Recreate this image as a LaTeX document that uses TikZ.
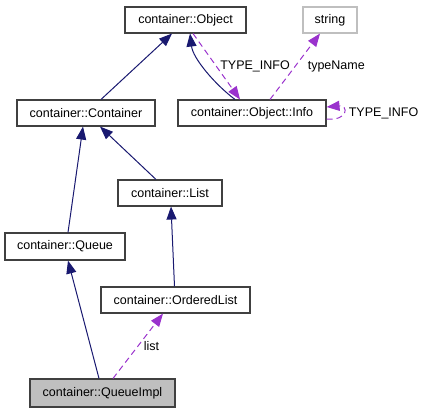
\documentclass[tikz,border=0pt]{standalone}
\usepackage{fontspec}
\setmainfont{Liberation Sans}
\usepackage{tikz}
\usetikzlibrary{shapes,arrows.meta,backgrounds}
\definecolor{edgeblue}{HTML}{191970}
\definecolor{edgepurple}{HTML}{9A32CD}
\definecolor{boxgray}{HTML}{BFBFBF}
\tikzset{
  classbox/.style={ draw=black!75, line width=1.1pt, fill=white, inner sep=0pt, minimum height=26pt, font=\fontsize{12.5}{14}\selectfont }
}
\tikzset{
  classfocus/.style={ classbox, fill=boxgray, minimum height=28pt }
}
\tikzset{
  extbox/.style={ classbox, draw=boxgray }
}
\tikzset{
  inherit/.style={ edgeblue, line width=1pt, -{Triangle[length=13pt, width=10pt]} }
}
\tikzset{
  usage/.style={ edgepurple, line width=1pt, dash pattern=on 6pt off 4pt, -{Triangle[length=13pt, width=10pt]} }
}
\tikzset{
  edgelabel/.style={ black, inner sep=3.3pt, font=\fontsize{12.5}{14}\selectfont }
}
\begin{document}
\begin{tikzpicture}[y=-1pt, x=1pt]

      \useasboundingbox (0, 0) rectangle (425, 413);

      \node[classbox, minimum width=121pt] (obj) at (185.5, 20) {container::Object};
      \node[extbox, minimum width=54pt] (str) at (330, 20) {string};
      \node[classbox, minimum width=138pt] (cont) at (86, 113) {container::Container};
      \node[classbox, minimum width=148pt] (info) at (252, 113) {container::Object::Info};
      \node[classbox, minimum width=104pt] (list) at (170, 193) {container::List};
      \node[classbox, minimum width=120pt, minimum height=27pt] (queue) at (65, 246.5) {container::Queue};
      \node[classbox, minimum width=149pt] (olist) at (175.5, 300) {container::OrderedList};
      \node[classfocus, minimum width=145pt] (qimpl) at (102.5, 393) {container::QueueImpl};

      % base classes
      \draw[inherit] ([xshift=15pt]cont.north) -- ([xshift=-13.5pt]obj.south);
      \draw[inherit] ([xshift=-17pt]info.north) .. controls +(-20, -15) and +(3, 25) .. ([xshift=4.5pt]obj.south);
      \draw[inherit] ([xshift=-14pt]list.north) -- ([xshift=14pt]cont.south);
      \draw[inherit] ([xshift=3pt]queue.north) -- ([xshift=-3pt]cont.south);
      \draw[inherit] ([xshift=-1pt]olist.north) -- ([xshift=1pt]list.south);
      \draw[inherit] ([xshift=-3.5pt]qimpl.north) -- ([xshift=3pt]queue.south);

      % members
      \draw[usage] ([xshift=7.5pt]obj.south) -- node[edgelabel, midway, right=0pt] {TYPE\_INFO} ([xshift=-12pt]info.north);
      \draw[usage] ([xshift=18pt]info.north) -- node[edgelabel, midway, right=9pt] {typeName} ([xshift=-10pt]str.south);
      \draw[usage] ([yshift=-6pt]info.east) .. controls +(22, 2) and +(22, -2) .. node[edgelabel, pos=0.5, right=2pt] {TYPE\_INFO} ([yshift=6pt]info.east);
      \draw[usage] ([xshift=10.5pt]qimpl.north) -- node[edgelabel, midway, right=2pt] {list} ([xshift=-12.5pt]olist.south);
    \end{tikzpicture}
\end{document}
